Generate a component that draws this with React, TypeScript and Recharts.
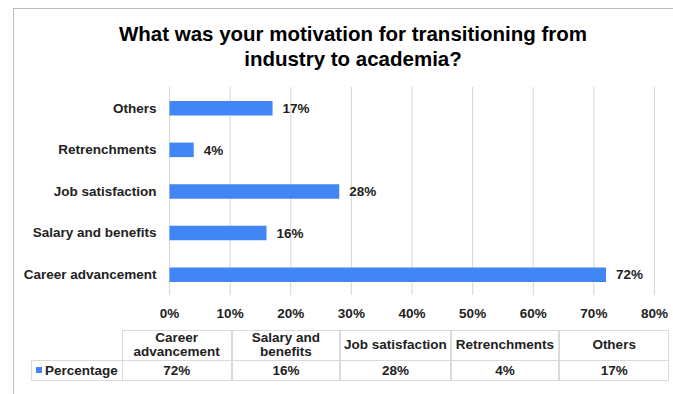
import React from 'react';
import { BarChart, Bar, XAxis, YAxis, CartesianGrid, LabelList } from 'recharts';

const categories = ['Career advancement', 'Salary and benefits', 'Job satisfaction', 'Retrenchments', 'Others'];
const percentages = [72, 16, 28, 4, 17];
const xTicks = [0, 10, 20, 30, 40, 50, 60, 70, 80];
const seriesName = 'Percentage';
const titleLines = ['What was your motivation for transitioning from', 'industry to academia?'];

const BLUE = '#4285F4';
const FONT = '"Liberation Sans", Arial, sans-serif';
const TEXT = '#222';

const chartData = categories.map((c, i) => ({ name: c, value: percentages[i] })).reverse();

const colEdges = [121.7, 231.7, 340.3, 450.7, 559.3, 669];
const legendLeft = 31;
const headerTop = 330;
const dataTop = 360.7;
const tableBottom = 381;
const borderColor = '#dadada';

export default function App() {
  return (
    <div style={{ position: 'absolute', left: 0, top: 0, width: 673, height: 394, background: '#fff', overflow: 'hidden', fontFamily: FONT }}>
      {/* frame */}
      <div style={{ position: 'absolute', left: 13, top: 8, width: 700, height: 420, borderTop: '1.5px solid #bcbcbc', borderLeft: '1.5px solid #bcbcbc', boxSizing: 'border-box' }} />
      {/* title */}
      <div style={{ position: 'absolute', left: 13, width: 680, top: 21, textAlign: 'center', fontWeight: 'bold', fontSize: 20.5, lineHeight: '25px', color: '#000' }}>
        {titleLines.map((t) => (
          <div key={t}>{t}</div>
        ))}
      </div>
      <div style={{ position: 'absolute', left: 0, top: 0 }}>
        <BarChart
          width={673}
          height={330}
          data={chartData}
          layout="vertical"
          margin={{ top: 87, right: 18.5, bottom: 5, left: 0 }}
          barCategoryGap={0}
        >
          <CartesianGrid horizontal={false} vertical={true} stroke="#d6d6d6" strokeWidth={1} />
          <XAxis
            type="number"
            domain={[0, 80]}
            ticks={xTicks}
            tickFormatter={(v: number) => `${v}%`}
            axisLine={false}
            tickLine={false}
            tickSize={0}
            tickMargin={13}
            height={30}
            interval={0}
            tick={{ fill: TEXT, fontSize: 13.5, fontWeight: 'bold', fontFamily: FONT }}
          />
          <YAxis
            type="category"
            dataKey="name"
            width={169.5}
            axisLine={false}
            tickLine={false}
            tickSize={0}
            tickMargin={13}
            interval={0}
            tick={{ fill: TEXT, fontSize: 13.5, fontWeight: 'bold', fontFamily: FONT }}
          />
          <Bar dataKey="value" fill={BLUE} barSize={14.5} isAnimationActive={false}>
            <LabelList
              dataKey="value"
              position="right"
              offset={10}
              formatter={(v: number) => `${v}%`}
              style={{ fill: TEXT, fontSize: 13.5, fontWeight: 'bold', fontFamily: FONT }}
            />
          </Bar>
        </BarChart>
      </div>
      {/* data table */}
      <div style={{ position: 'absolute', left: 0, top: 0, fontSize: 13.5, fontWeight: 'bold', color: TEXT }}>
        {categories.map((c, i) => (
          <React.Fragment key={c}>
            <div
              style={{
                position: 'absolute',
                left: colEdges[i],
                top: headerTop,
                width: colEdges[i + 1] - colEdges[i],
                height: dataTop - headerTop,
                border: `1px solid ${borderColor}`,
                boxSizing: 'border-box',
                display: 'flex',
                alignItems: 'center',
                justifyContent: 'center',
                textAlign: 'center',
                lineHeight: '14px',
                padding: '0 2px',
              }}
            >
              {c}
            </div>
            <div
              style={{
                position: 'absolute',
                left: colEdges[i],
                top: dataTop - 1,
                width: colEdges[i + 1] - colEdges[i],
                height: tableBottom - dataTop + 1,
                border: `1px solid ${borderColor}`,
                boxSizing: 'border-box',
                display: 'flex',
                alignItems: 'center',
                justifyContent: 'center',
              }}
            >
              {`${percentages[i]}%`}
            </div>
          </React.Fragment>
        ))}
        <div
          style={{
            position: 'absolute',
            left: legendLeft,
            top: dataTop - 1,
            width: colEdges[0] - legendLeft + 1,
            height: tableBottom - dataTop + 1,
            border: `1px solid ${borderColor}`,
            boxSizing: 'border-box',
            display: 'flex',
            alignItems: 'center',
            paddingLeft: 4,
            whiteSpace: 'nowrap',
          }}
        >
          <span style={{ display: 'inline-block', width: 6, height: 6, background: BLUE, marginRight: 3 }} />
          {seriesName}
        </div>
      </div>
    </div>
  );
}
